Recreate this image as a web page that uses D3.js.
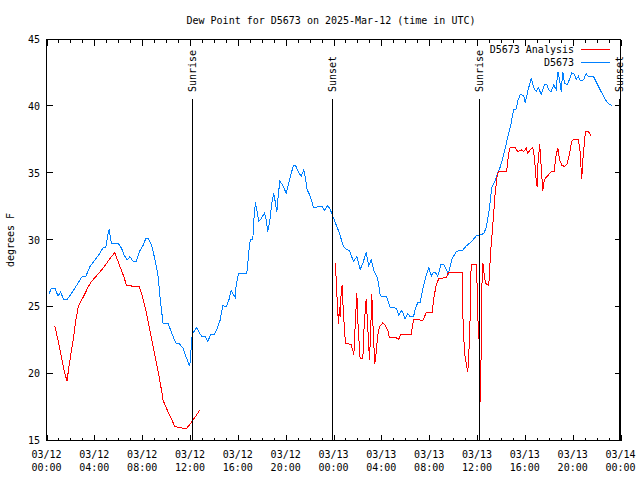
<!DOCTYPE html>
<html><head><meta charset="utf-8">
<script src="https://cdn.jsdelivr.net/npm/d3@7"></script>
<style>
html,body{margin:0;padding:0;background:#fff;}
svg text{font-family:"DejaVu Sans Mono","Liberation Mono",monospace;font-size:10px;fill:#000;}
</style>
</head><body>
<svg id="chart" width="640" height="480"></svg>
<script>
const chartTitle = "Dew Point for D5673 on 2025-Mar-12 (time in UTC)";
const yLabel = "degrees F";
const seriesNames = ["D5673 Analysis", "D5673"];
const startTime = "2025-03-12T00:00:00Z";
const yTicks = [15, 20, 25, 30, 35, 40, 45];

// hours after 03/12 00:00 UTC
const eventHours = [12.16, 23.89, 36.18, 47.87];
const eventNames = ["Sunrise", "Sunset", "Sunrise", "Sunset"];

const stationHours = [0.22,0.42,0.7,0.97,1.17,1.45,1.73,2.0,2.37,2.79,3.0,3.3,3.62,4.04,4.46,4.74,4.96,5.1,5.24,5.43,6.0,6.27,6.47,6.75,6.97,7.25,7.52,7.75,8.08,8.3,8.5,8.78,9.06,9.34,9.53,9.75,10.17,10.53,10.81,11.1,11.43,11.65,11.98,12.07,12.18,12.4,12.54,12.79,13.02,13.3,13.49,13.71,13.99,14.24,14.52,14.74,15.02,15.25,15.44,15.64,15.78,15.86,16.05,16.75,16.89,16.97,17.06,17.25,17.33,17.47,17.62,17.75,17.95,18.23,18.37,18.5,18.7,18.84,19.0,19.15,19.26,19.37,19.51,19.76,20.04,20.26,20.46,20.65,20.82,21.01,21.3,21.51,21.66,21.8,21.99,22.18,22.32,23.05,23.24,23.52,23.75,23.86,24.02,24.5,24.83,25.06,25.33,25.67,25.95,26.23,26.45,26.73,26.95,27.15,27.42,27.7,27.9,27.98,28.45,28.73,29.24,29.46,29.71,29.99,30.21,30.43,30.69,30.85,31.05,31.25,31.41,31.61,31.8,31.97,32.17,32.36,32.53,32.72,33.0,33.19,33.42,33.61,33.92,34.26,34.53,34.81,35.09,35.37,35.7,35.98,36.35,36.57,36.76,36.9,37.04,37.23,37.46,37.68,37.96,38.24,38.52,38.8,39.07,39.27,39.41,39.63,39.91,40.03,40.24,40.53,40.74,40.95,41.14,41.36,41.64,41.86,41.97,42.2,42.42,42.62,42.76,42.9,43.04,43.17,43.31,43.54,43.73,43.92,44.15,44.29,44.48,44.65,44.93,45.12,45.32,45.76,46.1,46.38,46.66,46.93,47.27];
const stationValues = [26.0,26.4,26.4,25.8,26.1,25.55,25.55,25.9,26.4,27.0,27.3,27.3,28.0,28.5,29.0,29.45,29.45,30.25,30.8,29.75,29.75,29.4,28.9,28.5,28.75,28.4,28.4,29.1,29.6,30.1,30.1,29.6,28.6,27.25,25.4,23.75,23.75,22.9,22.3,22.25,21.9,21.3,20.55,21.6,22.9,23.25,23.45,23.05,22.75,22.75,22.4,22.9,22.9,23.3,24.0,25.1,25.0,25.5,26.2,25.9,25.7,26.6,27.5,27.5,28.75,29.6,30.05,30.0,31.4,32.8,32.1,31.4,31.6,32.0,31.5,30.6,31.6,32.75,33.5,32.75,32.1,33.25,34.4,34.1,33.5,34.25,35.0,35.55,35.6,35.2,34.75,35.25,34.6,33.75,33.4,32.9,32.45,32.5,32.2,32.6,32.25,31.95,31.6,30.5,29.5,29.3,29.2,28.4,28.75,27.8,28.25,29.05,28.1,28.5,27.6,27.1,25.9,25.8,25.75,24.95,24.9,24.4,24.75,24.1,24.5,24.25,24.25,24.9,25.3,25.3,26.1,26.9,27.5,27.95,27.3,27.6,27.55,27.3,28.2,28.2,27.8,27.5,28.6,29.1,29.25,29.25,29.55,29.75,30.05,30.35,30.4,30.5,30.9,31.6,32.4,33.9,34.3,34.9,35.5,36.4,37.5,38.5,39.75,39.8,40.4,40.9,40.8,40.25,41.1,42.1,41.4,41.1,41.4,40.9,41.6,41.6,41.25,41.1,41.6,41.25,42.6,42.0,41.1,42.6,41.75,41.6,42.0,42.5,42.4,42.0,42.25,41.9,42.0,42.45,42.2,42.2,41.6,41.1,40.6,40.25,40.05];

const analysisHours = [0.7,0.97,1.25,1.53,1.73,1.81,2.0,2.23,2.45,2.68,2.93,3.2,3.49,3.76,4.12,4.4,4.74,5.02,5.3,5.71,5.94,6.19,6.47,6.69,7.19,7.75,8.03,8.3,8.59,8.86,9.14,9.42,9.62,9.75,10.09,10.37,10.73,11.15,11.7,11.98,12.26,12.54,12.8,18.0,24.16,24.28,24.41,24.5,24.55,24.64,24.72,24.83,25.0,25.47,25.61,25.7,25.81,25.95,26.06,26.23,26.45,26.56,26.73,26.87,27.01,27.12,27.2,27.32,27.45,27.57,27.7,27.84,28.12,28.34,28.54,28.68,29.24,29.43,29.65,30.02,30.49,30.69,31.13,31.46,31.75,32.25,32.36,32.58,32.8,33.42,33.64,34.76,34.81,34.9,35.01,35.15,35.23,35.32,35.43,35.51,35.93,36.02,36.12,36.2,36.22,36.29,36.37,36.4,36.49,36.6,36.71,36.98,37.04,37.12,37.32,37.51,37.68,37.79,38.02,38.43,38.52,38.63,38.77,39.19,39.41,39.69,39.91,40.11,40.24,40.47,40.66,40.74,40.86,40.94,41.02,41.08,41.16,41.24,41.36,41.5,41.58,41.69,41.91,42.2,42.47,42.56,42.76,42.9,43.09,43.31,43.54,43.73,43.92,44.15,44.48,44.62,44.71,44.76,44.84,44.98,45.07,45.32,45.54];
const analysisValues = [23.55,22.5,21.25,20.0,19.45,20.1,21.25,22.5,24.0,25.1,25.5,25.95,26.5,26.9,27.25,27.55,27.9,28.25,28.6,29.05,28.5,27.9,27.25,26.6,26.55,26.55,25.75,24.75,23.5,22.25,21.0,19.75,18.75,18.0,17.3,16.75,16.05,15.95,15.9,16.2,16.55,16.9,17.25,null,28.25,26.0,23.75,25.0,24.25,26.05,26.6,24.5,22.25,22.2,21.75,21.4,23.6,26.0,23.5,21.1,21.1,23.5,25.6,23.4,21.0,23.5,25.95,23.25,20.7,21.6,22.9,23.5,23.8,23.6,23.25,22.7,22.7,22.55,22.95,22.9,22.9,24.05,24.05,23.95,24.55,24.55,25.5,26.6,27.1,27.2,27.6,27.6,24.6,22.5,21.2,20.5,20.1,21.5,24.25,28.2,28.2,26.4,22.6,22.6,16.9,19.0,22.6,26.4,28.3,27.4,26.75,26.6,27.4,28.9,31.1,33.4,34.75,35.1,35.1,35.1,35.4,36.4,36.9,36.9,36.6,36.75,36.6,36.9,36.5,36.75,36.9,36.6,35.5,34.6,34.0,35.6,36.25,37.2,35.6,33.7,34.25,34.6,34.8,35.1,35.1,36.1,36.9,36.0,35.6,35.5,35.7,36.4,37.4,37.55,37.55,36.6,35.25,34.6,35.9,37.25,38.1,38.1,37.8];

const colors = {analysis: "#ff0000", station: "#0080ff"};

const svg = d3.select("#chart");
const t0 = new Date(startTime);
const toDate = h => new Date(t0.getTime() + h * 3600000);

const L = 46.5, R = 620.5, T = 39.5, B = 440.5;
const x = d3.scaleUtc().domain([t0, toDate(48)]).range([L, R]);
const y = d3.scaleLinear().domain([15, 45]).range([B, T]);

// frame
svg.append("rect").attr("x", L).attr("y", T).attr("width", R - L).attr("height", B - T)
  .attr("fill", "none").attr("stroke", "#000").attr("shape-rendering", "crispEdges");

// y ticks (left & right, inward)
const yG = svg.append("g").attr("shape-rendering", "crispEdges");
yTicks.forEach(v => {
  const py = Math.round(y(v)) - 0.5;
  yG.append("line").attr("x1", L).attr("x2", L + 6).attr("y1", py).attr("y2", py).attr("stroke", "#000");
  yG.append("line").attr("x1", R - 6).attr("x2", R).attr("y1", py).attr("y2", py).attr("stroke", "#000");
  svg.append("text").attr("x", 40).attr("y", y(v) + 3.5).attr("text-anchor", "end").text(v);
});

// x ticks: minor hourly, major every 4 h
const hourTicks = d3.utcHour.range(t0, toDate(48.01), 1);
const xG = svg.append("g").attr("shape-rendering", "crispEdges");
hourTicks.forEach((d, i) => {
  const major = i % 4 === 0;
  const len = major ? 6 : 3;
  const px = Math.round(x(d)) + 0.5;
  xG.append("line").attr("x1", px).attr("x2", px).attr("y1", B).attr("y2", B - len).attr("stroke", "#000");
  xG.append("line").attr("x1", px).attr("x2", px).attr("y1", T).attr("y2", T + len).attr("stroke", "#000");
  if (major) {
    svg.append("text").attr("x", x(d)).attr("y", 457.5).attr("text-anchor", "middle").text(d3.utcFormat("%m/%d")(d));
    svg.append("text").attr("x", x(d)).attr("y", 470.5).attr("text-anchor", "middle").text(d3.utcFormat("%H:%M")(d));
  }
});

// series
const stationData = stationHours.map((h, i) => ({t: toDate(h), v: stationValues[i]}));
const analysisData = analysisHours.map((h, i) => ({t: toDate(h), v: analysisValues[i]}));
const line = d3.line().defined(d => d.v !== null).x(d => x(d.t)).y(d => y(d.v));

svg.append("path").datum(stationData).attr("d", line).attr("fill", "none")
  .attr("stroke", colors.station).attr("stroke-width", 1).attr("shape-rendering", "crispEdges");
svg.append("path").datum(analysisData).attr("d", line).attr("fill", "none")
  .attr("stroke", colors.analysis).attr("stroke-width", 1).attr("shape-rendering", "crispEdges");

// sunrise / sunset markers (drawn over the series)
eventHours.forEach((h, i) => {
  const px = Math.round(x(toDate(h))) + 0.5;
  svg.append("line").attr("x1", px).attr("x2", px).attr("y1", 99).attr("y2", B)
    .attr("stroke", "#000").attr("shape-rendering", "crispEdges");
  svg.append("text").attr("transform", `translate(${px + 3.5},92) rotate(-90)`)
    .attr("text-anchor", "start").text(eventNames[i]);
});

// title
svg.append("text").attr("x", 331).attr("y", 23.5).attr("text-anchor", "middle").text(chartTitle);

// y label
svg.append("text").attr("transform", "translate(14,240) rotate(-90)").attr("text-anchor", "middle").text(yLabel);

// legend
const leg = [{name: seriesNames[0], c: colors.analysis, yy: 49.5}, {name: seriesNames[1], c: colors.station, yy: 62.5}];
leg.forEach(l => {
  svg.append("text").attr("x", 574).attr("y", l.yy + 3.5).attr("text-anchor", "end").text(l.name);
  svg.append("line").attr("x1", 581).attr("x2", 610).attr("y1", l.yy).attr("y2", l.yy)
    .attr("stroke", l.c).attr("shape-rendering", "crispEdges");
});
</script>
</body></html>
